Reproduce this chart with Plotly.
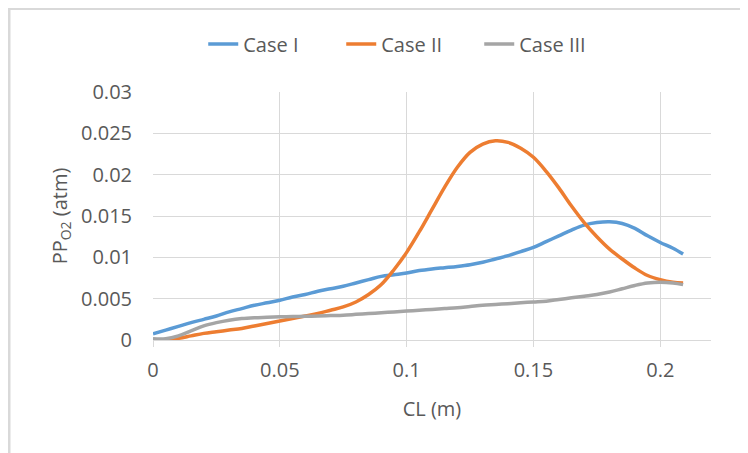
import plotly.graph_objects as go

cl_m = [0, 0.005, 0.01, 0.015, 0.02, 0.025, 0.03, 0.035, 0.04, 0.045,
        0.05, 0.055, 0.06, 0.065, 0.07, 0.075, 0.08, 0.085, 0.09, 0.095,
        0.1, 0.105, 0.11, 0.115, 0.12, 0.125, 0.13, 0.135, 0.14, 0.145,
        0.15, 0.155, 0.16, 0.165, 0.17, 0.175, 0.18, 0.185, 0.19, 0.195,
        0.2, 0.205, 0.209]

case_1 = [0.00076, 0.0012, 0.00165, 0.0021, 0.0025, 0.0029, 0.0034, 0.0038, 0.0042, 0.0045,
          0.0048, 0.0052, 0.0055, 0.0059, 0.0062, 0.0065, 0.0069, 0.0073, 0.0077, 0.0079,
          0.0081, 0.0084, 0.0086, 0.00875, 0.0089, 0.0091, 0.0094, 0.0098, 0.0102, 0.0107,
          0.0112, 0.0119, 0.0126, 0.0133, 0.0139, 0.0142, 0.0143, 0.0141, 0.0135, 0.0126,
          0.0118, 0.0111, 0.0104]

case_2 = [0.0, 0.0, 0.0002, 0.0005, 0.0008, 0.001, 0.0012, 0.0014, 0.0017, 0.002,
          0.0023, 0.0026, 0.0029, 0.0032, 0.0036, 0.004, 0.0046, 0.0055, 0.0067, 0.0085,
          0.0106, 0.0131, 0.0158, 0.0185, 0.0209, 0.0227, 0.0237, 0.0241, 0.0239, 0.0232,
          0.0221, 0.0204, 0.0184, 0.0162, 0.0142, 0.0125, 0.011, 0.0098, 0.0087, 0.0078,
          0.0073, 0.0070, 0.0069]

case_3 = [0.00016, 0.00016, 0.0005, 0.0011, 0.0017, 0.0021, 0.0024, 0.0026, 0.0027, 0.00275,
          0.0028, 0.00283, 0.00287, 0.0029, 0.00295, 0.003, 0.0031, 0.0032, 0.0033, 0.0034,
          0.0035, 0.0036, 0.0037, 0.0038, 0.0039, 0.00405, 0.0042, 0.0043, 0.0044, 0.0045,
          0.0046, 0.0047, 0.0049, 0.0051, 0.0053, 0.0055, 0.0058, 0.0062, 0.0066, 0.0069,
          0.0070, 0.0069, 0.0067]

series_names = ["Case I", "Case II", "Case III"]
series_colors = ["#5B9BD5", "#ED7D31", "#A5A5A5"]

x_tickvals = [0, 0.05, 0.1, 0.15, 0.2]
x_ticktext = ["0", "0.05", "0.1", "0.15", "0.2"]
y_tickvals = [0, 0.005, 0.01, 0.015, 0.02, 0.025, 0.03]
y_ticktext = ["0", "0.005", "0.01", "0.015", "0.02", "0.025", "0.03"]

FONT = "Open Sans, Lato, sans-serif"
TXT = "#595959"
GRID = "#d9d9d9"

fig = go.Figure()
for name, ys, col in zip(series_names, [case_1, case_2, case_3], series_colors):
    fig.add_trace(go.Scatter(
        x=cl_m, y=ys, name=name, mode="lines",
        line=dict(color=col, width=3.5, shape="spline", smoothing=1.0),
    ))

fig.update_layout(
    width=748, height=453,
    margin=dict(l=145, r=45, t=84, b=121),
    paper_bgcolor="white", plot_bgcolor="white",
    font=dict(family=FONT, color=TXT, size=20),
    showlegend=True,
    legend=dict(orientation="h", x=0.461, xanchor="center", y=1.1935, yanchor="middle",
                font=dict(size=20, color=TXT), entrywidth=93, entrywidthmode="pixels",
                bgcolor="rgba(0,0,0,0)"),
    xaxis=dict(range=[0, 0.22], tickvals=x_tickvals, ticktext=x_ticktext,
               showgrid=True, gridcolor=GRID, gridwidth=1,
               showline=True, linecolor=GRID, linewidth=1,
               ticks="outside", ticklen=6, tickcolor=GRID,
               zeroline=False, ticklabelstandoff=6,
               tickfont=dict(size=20, color=TXT),
               title=dict(text="CL (m)", font=dict(size=20, color=TXT), standoff=19)),
    yaxis=dict(range=[0, 0.03], tickvals=y_tickvals, ticktext=y_ticktext,
               showgrid=True, gridcolor=GRID, gridwidth=1,
               showline=False, zeroline=False, ticks="",
               ticklabelstandoff=20,
               tickfont=dict(size=20, color=TXT),
               title=dict(text="PP<sub>O2</sub> (atm)", font=dict(size=20, color=TXT), standoff=8)),
    shapes=[dict(type="rect", xref="paper", yref="paper",
                 x0=(1 - 145) / 558, x1=1.3, y0=-0.7, y1=(332 - 0.5) / 248,
                 line=dict(color=GRID, width=3), fillcolor="rgba(0,0,0,0)", layer="below")],
)

fig.write_html("out.html")
